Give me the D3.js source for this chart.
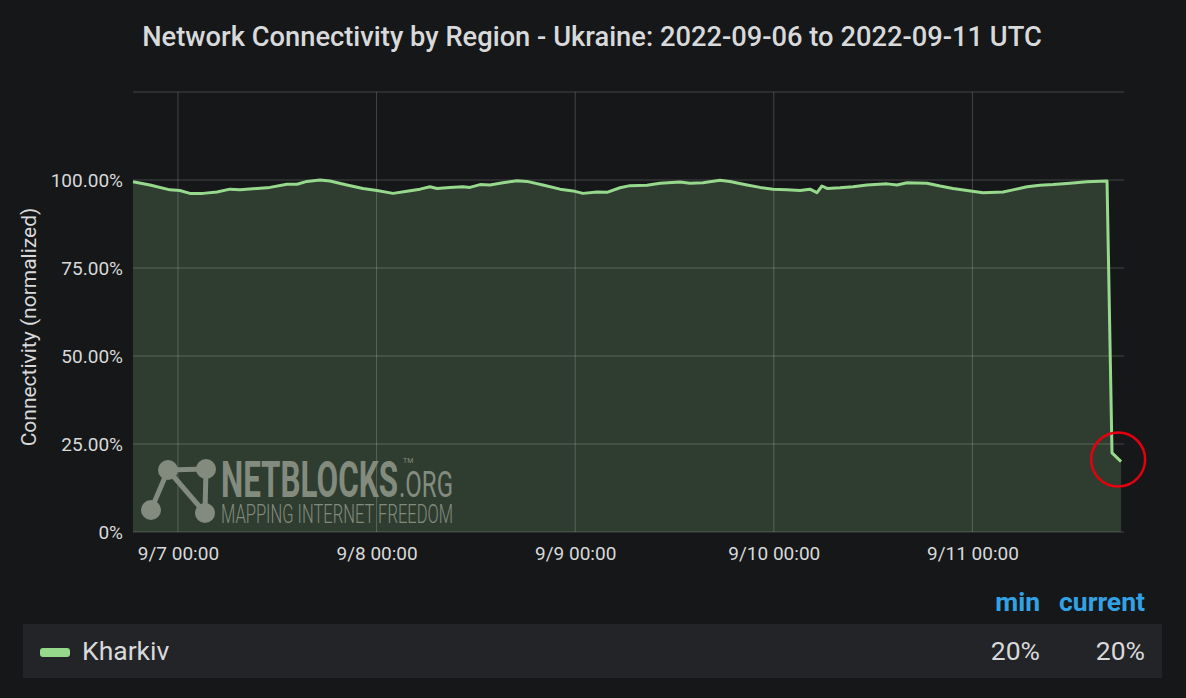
<!DOCTYPE html>
<html><head><meta charset="utf-8">
<script src="https://cdn.jsdelivr.net/npm/d3@7"></script>
<style>
body{margin:0;background:#161719;}
svg{display:block;font-family:Roboto, "Noto Sans", sans-serif;}
</style>
</head><body>
<svg id="c" width="1186" height="698"></svg>
<script>
const titleText = "Network Connectivity by Region - Ukraine: 2022-09-06 to 2022-09-11 UTC";
const yAxisLabel = "Connectivity (normalized)";
const seriesName = "Kharkiv";
const statHeaders = ["min", "current"];
const statValues = ["20%", "20%"];
const yTickValues = [0, 25, 50, 75, 100];
const yGridValues = [0, 25, 50, 75, 100, 125];
const xTickValues = ["2022-09-07T00:00","2022-09-08T00:00","2022-09-09T00:00","2022-09-10T00:00","2022-09-11T00:00"];
const xDomain = ["2022-09-06T18:34","2022-09-11T18:19"];
const yDomain = [0, 125];
const times = [
"2022-09-06T18:34","2022-09-06T20:37","2022-09-06T23:02","2022-09-07T00:14","2022-09-07T01:27","2022-09-07T03:01",
"2022-09-07T04:43","2022-09-07T06:17","2022-09-07T07:29","2022-09-07T09:33","2022-09-07T11:07","2022-09-07T13:10",
"2022-09-07T14:23","2022-09-07T15:35","2022-09-07T17:10","2022-09-07T18:22","2022-09-07T20:25","2022-09-07T22:21",
"2022-09-08T00:03","2022-09-08T01:59","2022-09-08T03:40","2022-09-08T05:15","2022-09-08T06:27","2022-09-08T07:18",
"2022-09-08T08:52","2022-09-08T10:26","2022-09-08T11:17","2022-09-08T12:30","2022-09-08T13:42","2022-09-08T15:16",
"2022-09-08T16:58","2022-09-08T18:10","2022-09-08T20:06","2022-09-08T22:10","2022-09-08T23:44","2022-09-09T00:56",
"2022-09-09T02:38","2022-09-09T03:50","2022-09-09T05:25","2022-09-09T06:37","2022-09-09T08:41","2022-09-09T10:15",
"2022-09-09T12:40","2022-09-09T13:52","2022-09-09T15:26","2022-09-09T17:30","2022-09-09T18:42","2022-09-09T20:46",
"2022-09-09T22:20","2022-09-09T23:54","2022-09-10T01:35","2022-09-10T03:10","2022-09-10T04:22","2022-09-10T05:13",
"2022-09-10T05:49","2022-09-10T06:26","2022-09-10T08:00","2022-09-10T09:34","2022-09-10T11:16","2022-09-10T13:41",
"2022-09-10T14:53","2022-09-10T16:06","2022-09-10T18:31","2022-09-10T20:05","2022-09-10T21:39","2022-09-10T23:21",
"2022-09-11T01:17","2022-09-11T03:42","2022-09-11T04:54","2022-09-11T06:36","2022-09-11T08:10","2022-09-11T09:44",
"2022-09-11T11:47","2022-09-11T13:51","2022-09-11T16:16","2022-09-11T16:52","2022-09-11T17:58"
];
const values = [
99.5,98.6,97.2,97.0,96.2,96.2,
96.6,97.4,97.2,97.6,97.9,98.8,
98.8,99.6,100.0,99.7,98.6,97.6,
97.0,96.2,96.8,97.4,98.1,97.6,
97.9,98.1,97.9,98.7,98.6,99.2,
99.8,99.6,98.6,97.4,96.9,96.2,
96.6,96.5,97.8,98.4,98.5,99.1,
99.4,99.1,99.2,99.9,99.6,98.6,
97.9,97.4,97.2,97.0,97.4,96.4,
98.3,97.6,97.8,98.1,98.6,98.9,
98.6,99.2,99.1,98.3,97.6,97.0,
96.4,96.6,97.2,98.1,98.5,98.7,
99.1,99.5,99.7,22.5,20.0
];

const parse = d3.utcParse("%Y-%m-%dT%H:%M");
const data = times.map((t,i)=>({t:parse(t), v:values[i]}));
const svg = d3.select("#c");
const W = 1186, H = 698;
svg.append("rect").attr("width",W).attr("height",H).attr("fill","#161719");

const x = d3.scaleUtc().domain(xDomain.map(parse)).range([133,1124]);
const y = d3.scaleLinear().domain(yDomain).range([532,92]);

const textColor = "#d8d9da";
const lineColor = "#96d98d";

// title
svg.append("text").attr("x",592).attr("y",46).attr("text-anchor","middle")
  .attr("fill",textColor).attr("font-size",27.3).attr("font-weight",500).text(titleText);

// area
const area = d3.area().x(d=>x(d.t)).y0(y(0)).y1(d=>y(d.v));
svg.append("path").datum(data).attr("d",area).attr("fill",lineColor).attr("fill-opacity",0.2);

// grid
const grid = svg.append("g");
grid.selectAll("line.h").data(yGridValues).join("line")
  .attr("x1",133).attr("x2",1124).attr("y1",d=>y(d)).attr("y2",d=>y(d))
  .attr("stroke","#ffffff").attr("stroke-opacity",0.2).attr("stroke-width",1);
grid.selectAll("line.v").data(xTickValues.map(parse)).join("line")
  .attr("x1",d=>x(d)).attr("x2",d=>x(d)).attr("y1",y(125)).attr("y2",y(0))
  .attr("stroke","#ffffff").attr("stroke-opacity",0.2).attr("stroke-width",1);

// watermark
const wm = svg.append("g").attr("fill","#838b7f").attr("stroke","#838b7f");
const nodes = [[168,470],[206,469],[151,510],[205,513]];
const links = [[0,1],[0,2],[0,3],[1,3]];
wm.selectAll("line").data(links).join("line")
  .attr("x1",d=>nodes[d[0]][0]).attr("y1",d=>nodes[d[0]][1])
  .attr("x2",d=>nodes[d[1]][0]).attr("y2",d=>nodes[d[1]][1])
  .attr("stroke-width",5);
wm.selectAll("circle").data(nodes).join("circle")
  .attr("cx",d=>d[0]).attr("cy",d=>d[1]).attr("r",10).attr("stroke","none");
wm.append("text").attr("x",221).attr("y",497).attr("font-size",50).attr("font-weight",700)
  .attr("stroke","none").attr("textLength",177).attr("lengthAdjust","spacingAndGlyphs").text("NETBLOCKS");
wm.append("text").attr("x",403).attr("y",463).attr("font-size",7).attr("stroke","none").text("TM");
wm.append("text").attr("x",399).attr("y",497).attr("font-size",37).attr("font-weight",400)
  .attr("stroke","none").attr("textLength",54).attr("lengthAdjust","spacingAndGlyphs").text(".ORG");
wm.append("text").attr("x",221).attr("y",523).attr("font-size",25).attr("font-weight",300)
  .attr("stroke","none").attr("textLength",232).attr("lengthAdjust","spacingAndGlyphs").text("MAPPING INTERNET FREEDOM");

// line
const line = d3.line().x(d=>x(d.t)).y(d=>y(d.v));
svg.append("path").datum(data).attr("d",line).attr("fill","none")
  .attr("stroke",lineColor).attr("stroke-width",3).attr("stroke-linejoin","round");

// axes
const yAxis = d3.axisLeft(y).tickValues(yTickValues).tickSize(0).tickPadding(10)
  .tickFormat(d=> d===0 ? "0%" : d.toFixed(2)+"%");
const gy = svg.append("g").attr("transform","translate(133,0)").call(yAxis);
gy.select(".domain").remove();
gy.selectAll("text").attr("fill",textColor).attr("font-size",19).attr("font-family","Roboto, sans-serif");

const xAxis = d3.axisBottom(x).tickValues(xTickValues.map(parse)).tickSize(0).tickPadding(15)
  .tickFormat(d3.utcFormat("%-m/%-d %H:%M"));
const gx = svg.append("g").attr("transform","translate(0,532)").call(xAxis);
gx.select(".domain").remove();
gx.selectAll("text").attr("fill",textColor).attr("font-size",19).attr("font-family","Roboto, sans-serif");

// y label
svg.append("text").attr("transform","translate(36,327) rotate(-90)").attr("text-anchor","middle")
  .attr("fill",textColor).attr("font-size",21).text(yAxisLabel);

// red circle highlighting the last value
const last = data[data.length-1];
svg.append("circle").attr("cx",x(last.t)-3).attr("cy",y(last.v)-2).attr("r",27)
  .attr("fill","none").attr("stroke","#e3000f").attr("stroke-width",2.5);

// legend
const statX = [1040, 1145];
svg.selectAll("text.hdr").data(statHeaders).join("text").attr("class","hdr")
  .attr("x",(d,i)=>statX[i]).attr("y",611).attr("text-anchor","end")
  .attr("fill","#33a2e5").attr("font-size",26.5).attr("font-weight",700).text(d=>d);
svg.append("rect").attr("x",23).attr("y",624).attr("width",1139).attr("height",54).attr("fill","#232427");
svg.append("rect").attr("x",40).attr("y",648).attr("width",30).attr("height",9).attr("rx",3).attr("fill",lineColor);
svg.append("text").attr("x",82).attr("y",660).attr("fill",textColor).attr("font-size",26.5).text(seriesName);
svg.selectAll("text.val").data(statValues).join("text").attr("class","val")
  .attr("x",(d,i)=>statX[i]).attr("y",660).attr("text-anchor","end")
  .attr("fill",textColor).attr("font-size",26.5).text(d=>d);
</script>
</body></html>
